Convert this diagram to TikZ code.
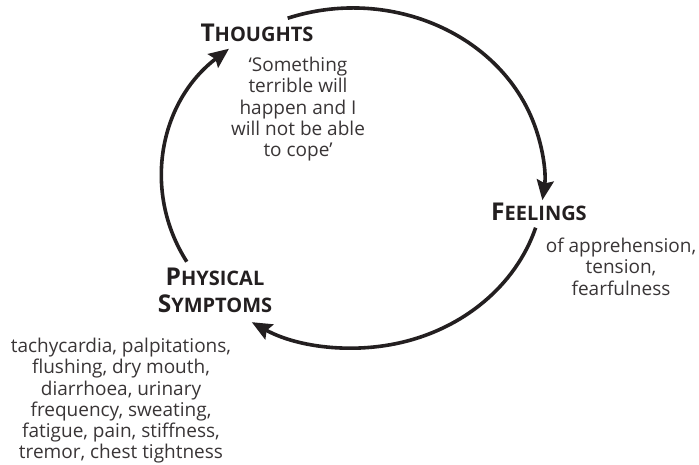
\documentclass[tikz,border=0pt]{standalone}
\usepackage{fontspec}
\setmainfont{Open Sans}
\usetikzlibrary{arrows.meta}
\definecolor{ink}{HTML}{231F20}
\tikzset{
  cyclearrow/.style={line width=3.6pt, color=ink, -{Stealth[length=20pt,width=17pt,inset=3pt]}},
  heading/.style={inner sep=0pt, text=ink, font=\bfseries, align=center},
  body/.style={inner sep=0pt, text=ink!90, align=center, font=\fontsize{19}{21.2}\selectfont},
}
\newcommand{\bigc}[1]{{\fontsize{24.5}{27}\selectfont #1}}
\newcommand{\smc}[1]{{\fontsize{20}{27}\selectfont #1}}
\begin{document}
\begin{tikzpicture}[x=1pt,y=1pt]
\useasboundingbox (0,0) rectangle (699,465);
\coordinate (c) at (353,287);
% headings
\node[heading, anchor=base] (thoughts) at (257,423) {\bigc{T}\smc{HOUGHTS}};
\node[heading, anchor=base] (feelings) at (539,244) {\bigc{F}\smc{EELINGS}};
\node[heading, anchor=north, font=\bfseries\fontsize{24.5}{27}\selectfont] (physical) at (215,197) {\bigc{P}\smc{HYSICAL}\\\bigc{S}\smc{YMPTOMS}};
% descriptions
\node[body, anchor=north] (tdesc) at (298,408) {‘Something\\terrible will\\happen and I\\will not be able\\to cope’};
\node[body, anchor=north] (fdesc) at (621,227) {of apprehension,\\tension,\\fearfulness};
\node[body, anchor=north] (pdesc) at (121,127) {tachycardia, palpitations,\\flushing, dry mouth,\\diarrhoea, urinary\\frequency, sweating,\\fatigue, pain, stiffness,\\tremor, chest tightness};
% cycle
\draw[cyclearrow] (c) ++(110:191pt and 170pt) arc[start angle=110, end angle=-7.5, x radius=191pt, y radius=170pt];
\draw[cyclearrow] (c) ++(-17:191pt and 170pt) arc[start angle=-17, end angle=-122, x radius=191pt, y radius=170pt];
\draw[cyclearrow] (c) ++(209.5:191pt and 170pt) arc[start angle=209.5, end angle=130.5, x radius=191pt, y radius=170pt];
\end{tikzpicture}
\end{document}
